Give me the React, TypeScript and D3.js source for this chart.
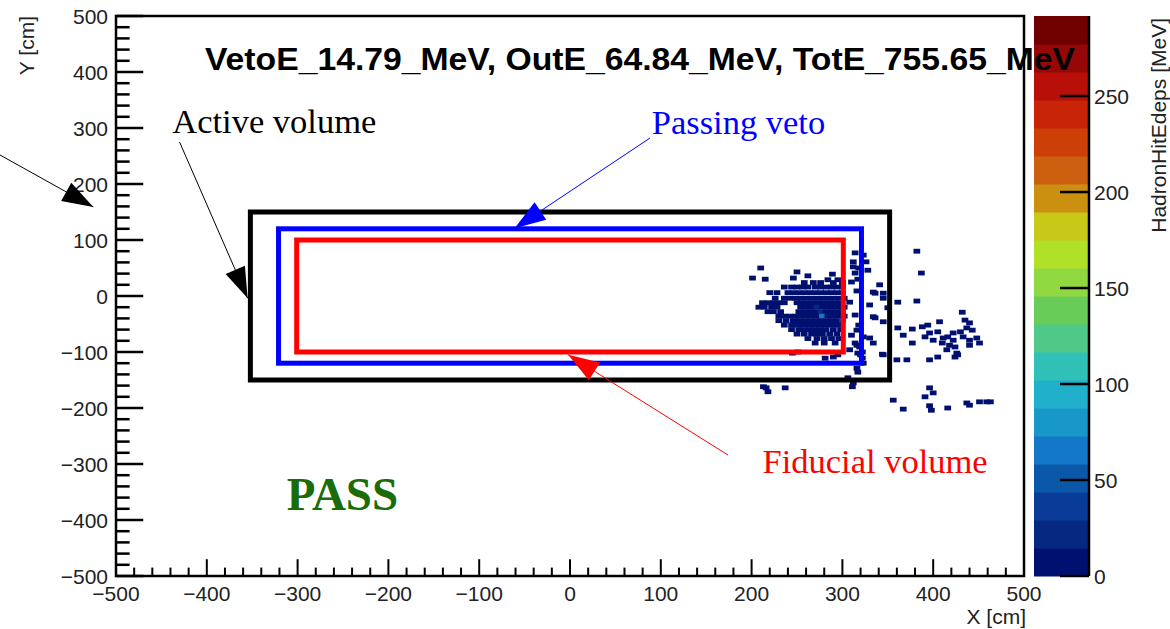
import React from "react";
import * as d3 from "d3";

// ---------------- data ----------------
const xDomain: [number, number] = [-500, 500];
const yDomain: [number, number] = [-500, 500];
const zMax = 291.7;
const xMajorTicks = [-500, -400, -300, -200, -100, 0, 100, 200, 300, 400, 500];
const yMajorTicks = [-500, -400, -300, -200, -100, 0, 100, 200, 300, 400, 500];
const zTicks = [0, 50, 100, 150, 200, 250];
const titleText = "VetoE_14.79_MeV, OutE_64.84_MeV, TotE_755.65_MeV";

// palette, bottom (low) to top (high)
const palette = [
  "#001070", "#062880", "#083c98", "#0c58a8", "#1478c8", "#1898c8", "#20b0cc",
  "#30c0b8", "#50c888", "#68cc58", "#90d840", "#b0e028", "#c8c818", "#cc9010",
  "#cc6010", "#cc4008", "#c82408", "#b81008", "#960808", "#700000",
];

// volumes: [name, halfX, halfY, colour]
const volumes: [string, number, number, string][] = [
  ["active", 352, 150, "#000000"],
  ["veto", 321, 120, "#0000ff"],
  ["fiducial", 301, 100, "#ff0000"],
];

// hits: [x cm, y cm, E MeV]
const coreHits: [number, number, number][] = [
  [258, 24, 3], [268, 24, 4], [276, 24, 3], [290, 24, 5], [300, 24, 4],
  [236, 16, 3], [244, 16, 4], [250, 16, 3], [256, 16, 5], [262, 16, 3], [270, 16, 6], [276, 16, 4], [282, 16, 7], [288, 16, 5], [294, 16, 4], [300, 16, 3],
  [220, 6, 3], [228, 6, 3], [240, 6, 4], [246, 6, 5], [252, 6, 6], [258, 6, 5], [264, 6, 8], [270, 6, 6], [276, 6, 9], [282, 6, 7], [288, 6, 5], [294, 6, 6], [300, 6, 4],
  [226, -4, 3], [236, -4, 4], [242, -4, 3], [248, -4, 4], [254, -4, 5], [260, -4, 7], [266, -4, 9], [272, -4, 11], [278, -4, 8], [284, -4, 10], [290, -4, 6], [296, -4, 7], [302, -4, 5],
  [212, -12, 3], [218, -12, 3], [224, -12, 4], [230, -12, 3], [236, -12, 4], [250, -12, 6], [256, -12, 8], [262, -12, 10], [268, -12, 12], [274, -12, 9], [280, -12, 11], [286, -12, 7], [292, -12, 8], [298, -12, 6],
  [208, -20, 3], [214, -20, 3], [222, -20, 4], [228, -20, 3], [254, -20, 7], [260, -20, 9], [266, -20, 12], [272, -20, 18], [278, -20, 13], [284, -20, 10], [290, -20, 9], [296, -20, 6], [302, -20, 5],
  [218, -28, 3], [224, -28, 4], [232, -28, 3], [252, -28, 6], [258, -28, 9], [264, -28, 11], [270, -28, 13], [276, -28, 20], [282, -28, 12], [288, -28, 8], [294, -28, 9], [300, -28, 6],
  [230, -36, 3], [236, -36, 4], [242, -36, 5], [248, -36, 5], [254, -36, 7], [260, -36, 9], [266, -36, 12], [272, -36, 10], [278, -36, 62], [284, -36, 14], [290, -36, 9], [296, -36, 8], [302, -36, 5],
  [230, -44, 3], [238, -44, 4], [246, -44, 5], [252, -44, 6], [258, -44, 8], [264, -44, 10], [270, -44, 12], [276, -44, 11], [282, -44, 9], [288, -44, 10], [294, -44, 7], [300, -44, 38],
  [236, -52, 3], [244, -52, 4], [250, -52, 5], [256, -52, 6], [262, -52, 7], [268, -52, 9], [274, -52, 10], [280, -52, 8], [286, -52, 7], [292, -52, 6], [298, -52, 5],
  [244, -60, 3], [252, -60, 4], [258, -60, 5], [264, -60, 7], [270, -60, 8], [276, -60, 6], [282, -60, 5], [290, -60, 6], [298, -60, 4],
  [250, -68, 3], [258, -68, 3], [266, -68, 5], [272, -68, 6], [278, -68, 4], [286, -68, 5], [294, -68, 4],
  [262, -76, 3], [272, -76, 4], [280, -76, 5], [288, -76, 3], [296, -76, 4],
  [270, -84, 4], [280, -84, 3], [292, -84, 3],
  [210, 50, 3], [201, 32, 3], [215, 30, 4], [250, 43, 3], [246, 32, 4], [289, 39, 5], [284, 29, 4], [295, 29, 6], [262, 36, 3],
  [251, -100, 3], [245, -102, 3],
];

const vetoGapHits: [number, number, number][] = [
  [314, 77, 4], [323, 73, 3], [312, 52, 3], [314, 41, 5], [317, 30, 4], [328, 46, 3], [326, 61, 3],
  [312, 61, 3], [318, 50, 4], [310, 25, 5], [316, 9, 6], [308, -11, 7], [314, -34, 5], [318, -52, 6], [310, -70, 4], [316, -88, 5], [320, -105, 3],
  [316, -61, 4], [323, -73, 3], [308, -96, 4], [317, -102, 3],
  [281, -111, 3], [290, -109, 4], [295, -105, 3], [322, -111, 4], [323, -120, 3], [314, -84, 5], [319, -91, 4], [322, -100, 3],
  [316, -129, 3], [317, -136, 4],
];

const outerHits: [number, number, number][] = [
  [382, 80, 3], [387, 41, 3], [341, 20, 4], [336, 5, 3], [345, -4, 4], [334, 7, 3], [345, 5, 3],
  [361, -11, 3], [382, -9, 3], [350, -21, 4], [330, -16, 3], [334, -37, 4], [345, -46, 3], [336, -39, 3],
  [361, -57, 3], [367, -70, 3], [377, -59, 3], [377, -84, 3], [334, -84, 3], [330, -75, 4], [344, -104, 3],
  [388, -55, 4], [394, -52, 3], [407, -46, 3], [391, -73, 4], [400, -79, 3], [396, -66, 3],
  [405, -64, 4], [411, -75, 5], [416, -73, 4], [422, -79, 3], [410, -84, 4], [418, -88, 5], [424, -91, 3],
  [415, -96, 3], [426, -102, 4], [424, -109, 3], [432, -29, 3],
  [435, -43, 3], [440, -48, 4], [437, -57, 3], [443, -61, 3], [430, -64, 4], [422, -66, 3],
  [433, -73, 4], [440, -79, 3], [448, -75, 3], [451, -84, 4], [440, -88, 3], [427, -105, 3],
  [345, -105, 3], [360, -114, 3], [371, -114, 3], [396, -114, 4], [405, -109, 3],
  [356, -186, 3], [367, -202, 3], [396, -164, 3], [400, -173, 4], [391, -180, 3], [396, -196, 3], [398, -204, 3],
  [416, -200, 3], [437, -191, 3], [440, -195, 3], [451, -189, 4], [459, -189, 3], [463, -189, 3],
  [216, -164, 4], [218, -171, 3], [213, -162, 3], [237, -164, 3], [306, -146, 4], [312, -155, 3], [311, -162, 4],
];

// annotations (data units, cm): [text, x, y, colour]
const labels: [string, number, number, string][] = [
  ["Active volume", -438, 291, "#000000"],
  ["Passing veto", 90, 289, "#0000ff"],
  ["Fiducial volume", 212, -316, "#ff0000"],
];
// arrows: [x0, y0, x1(tip), y1(tip), colour]
const arrows: [number, number, number, number, string][] = [
  [-628, 252, -525, 159, "#000000"],
  [-430, 275, -355, -4, "#000000"],
  [88, 282, -61, 121, "#0000ff"],
  [174, -284, -2, -105, "#ff0000"],
];
const passLabel: [string, number, number] = ["PASS", -312, -382];

// ---------------- layout ----------------
const W = 1170;
const H = 629;
const plot = { left: 116, right: 1024, top: 16, bottom: 576 };
const bar = { left: 1034, right: 1089 };
const binW = 7.4;
const binH = 8.6;
const sans = "'Liberation Sans', Arial, Helvetica, sans-serif";
const serif = "'Liberation Serif', 'Times New Roman', serif";
const tickFont = 21;

const fmt = (v: number) => (v < 0 ? "\u2212" + Math.abs(v) : String(v));

export default function App() {
  const x = d3.scaleLinear().domain(xDomain).range([plot.left, plot.right]);
  const y = d3.scaleLinear().domain(yDomain).range([plot.bottom, plot.top]);
  const z = d3.scaleLinear().domain([0, zMax]).range([plot.bottom, plot.top]);
  const colorOf = (v: number) => palette[Math.min(palette.length - 1, Math.floor((v / zMax) * palette.length))];

  const allHits = [...coreHits, ...vetoGapHits, ...outerHits];
  const minorX = d3.range(-500, 501, 20);
  const minorY = d3.range(-500, 501, 20);
  const yTickMajor = 0.03 * (plot.right - plot.left);
  const xTickMajor = 0.03 * (plot.bottom - plot.top);
  const bandH = (plot.bottom - plot.top) / palette.length;

  const arrowHead = (x0: number, y0: number, x1: number, y1: number) => {
    const dx = x1 - x0, dy = y1 - y0;
    const L = Math.hypot(dx, dy);
    const ux = dx / L, uy = dy / L;
    const len = 31, hw = 10.5;
    const bx = x1 - ux * len, by = y1 - uy * len;
    return `${x1},${y1} ${bx - uy * hw},${by + ux * hw} ${bx + uy * hw},${by - ux * hw}`;
  };

  return (
    <svg width={W} height={H} style={{ position: "absolute", left: 0, top: 0, background: "#fff" }}>
      <rect x={0} y={0} width={W} height={H} fill="#fff" />
      {/* hits */}
      <g>
        {allHits.map(([hx, hy, e], i) => (
          <rect
            key={i}
            x={x(hx - binW / 2)}
            y={y(hy + binH / 2)}
            width={x(hx + binW / 2) - x(hx - binW / 2)}
            height={y(hy - binH / 2) - y(hy + binH / 2)}
            fill={colorOf(e)}
          />
        ))}
      </g>
      {/* volumes */}
      {volumes.map(([name, hx, hy, c]) => (
        <rect
          key={name}
          x={x(-hx)}
          y={y(hy)}
          width={x(hx) - x(-hx)}
          height={y(-hy) - y(hy)}
          fill="none"
          stroke={c}
          strokeWidth={5}
        />
      ))}
      {/* frame */}
      <rect
        x={plot.left}
        y={plot.top}
        width={plot.right - plot.left}
        height={plot.bottom - plot.top}
        fill="none"
        stroke="#000"
        strokeWidth={2.5}
      />
      {/* y ticks */}
      {minorY.map((v) => (
        <line
          key={"ym" + v}
          x1={plot.left}
          x2={plot.left + (v % 100 === 0 ? yTickMajor : yTickMajor / 2)}
          y1={y(v)}
          y2={y(v)}
          stroke="#000"
          strokeWidth={2.5}
        />
      ))}
      {yMajorTicks.map((v) => (
        <text key={"yl" + v} x={plot.left - 8} y={y(v)} dy="0.36em" textAnchor="end" fontFamily={sans} fontSize={tickFont} fill="#222">
          {fmt(v)}
        </text>
      ))}
      {/* x ticks */}
      {minorX.map((v) => (
        <line
          key={"xm" + v}
          x1={x(v)}
          x2={x(v)}
          y1={plot.bottom}
          y2={plot.bottom - (v % 100 === 0 ? xTickMajor : xTickMajor / 2)}
          stroke="#000"
          strokeWidth={2}
        />
      ))}
      {xMajorTicks.map((v) => (
        <text key={"xl" + v} x={x(v)} y={601} textAnchor="middle" fontFamily={sans} fontSize={tickFont} fill="#222">
          {fmt(v)}
        </text>
      ))}
      <text x={plot.right + 2} y={624} textAnchor="end" fontFamily={sans} fontSize={tickFont} fill="#222">
        X [cm]
      </text>
      <text transform={`translate(34,${plot.top}) rotate(-90)`} textAnchor="end" fontFamily={sans} fontSize={tickFont} fill="#222">
        Y [cm]
      </text>
      {/* colour bar */}
      {palette.map((c, i) => (
        <rect key={"pb" + i} x={bar.left} y={plot.bottom - (i + 1) * bandH} width={bar.right - bar.left} height={bandH + 0.5} fill={c} />
      ))}
      <line x1={bar.right} x2={bar.right} y1={plot.top} y2={plot.bottom} stroke="#000" strokeWidth={2.5} />
      {zTicks.map((v) => (
        <g key={"zt" + v}>
          <line x1={bar.right - 29} x2={bar.right} y1={z(v)} y2={z(v)} stroke="#000" strokeWidth={2.5} />
          <text x={bar.right + 5} y={z(v)} dy="0.36em" fontFamily={sans} fontSize={tickFont} fill="#222">
            {v}
          </text>
        </g>
      ))}
      <text transform={`translate(1166,${plot.top + 2}) rotate(-90)`} textAnchor="end" fontFamily={sans} fontSize={tickFont} fill="#222">
        HadronHitEdeps [MeV]
      </text>
      {/* title */}
      <text x={205} y={70} fontFamily={sans} fontWeight="bold" fontSize={32} textLength={870} lengthAdjust="spacingAndGlyphs" fill="#000">
        {titleText}
      </text>
      {/* annotations */}
      {arrows.map(([x0, y0, x1, y1, c], i) => (
        <g key={"ar" + i}>
          <line x1={x(x0)} y1={y(y0)} x2={x(x1)} y2={y(y1)} stroke={c} strokeWidth={1} />
          <polygon points={arrowHead(x(x0), y(y0), x(x1), y(y1))} fill={c} />
        </g>
      ))}
      {labels.map(([t, lx, ly, c]) => (
        <text key={t} x={x(lx)} y={y(ly)} fontFamily={serif} fontSize={34.5} fill={c}>
          {t}
        </text>
      ))}
      <text x={x(passLabel[1])} y={y(passLabel[2])} fontFamily={serif} fontWeight="bold" fontSize={47} fill="#1a6b0a">
        {passLabel[0]}
      </text>
    </svg>
  );
}
